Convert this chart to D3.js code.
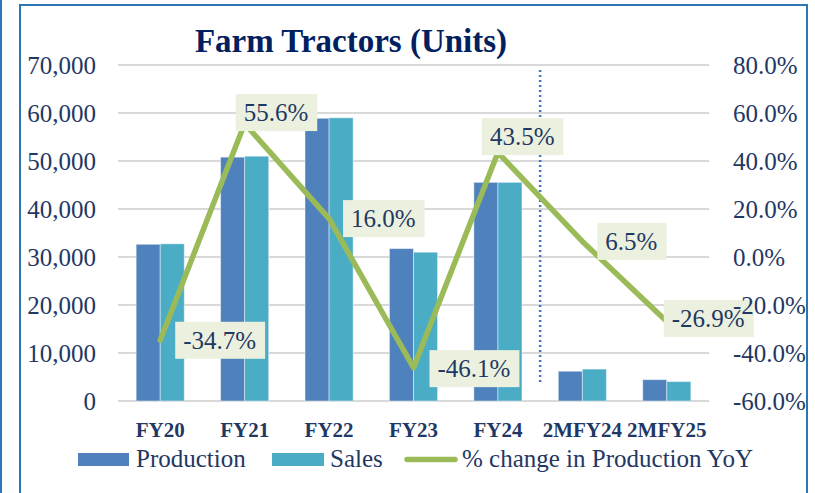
<!DOCTYPE html>
<html>
<head>
<meta charset="utf-8">
<script src="https://cdn.jsdelivr.net/npm/d3@7"></script>
<style>
  body { margin: 0; background: #fff; }
  svg { display: block; font-family: "Liberation Serif", "DejaVu Serif", serif; }
</style>
</head>
<body>
<svg width="815" height="493"></svg>
<script>
var categories = ["FY20", "FY21", "FY22", "FY23", "FY24", "2MFY24", "2MFY25"];
var production = [32650, 50800, 58900, 31750, 45550, 6200, 4450];
var sales = [32750, 51000, 59000, 31000, 45550, 6650, 4050];
var pctChange = [-34.7, 55.6, 16.0, -46.1, 43.5, 6.5, -26.9];
var leftTicks = [0, 10000, 20000, 30000, 40000, 50000, 60000, 70000];
var rightTicks = [-60, -40, -20, 0, 20, 40, 60, 80];
var seriesNames = ["Production", "Sales"];

// label box nudges (left edge offset, vertical offset) from each point
var labelShift = [[15, 0], [-9, -11], [14, 0], [16, 1], [-16, -16], [15, 0], [-3, -3]];

var svg = d3.select("svg"),
  width = +svg.attr("width"),
  height = +svg.attr("height");

var navy = "#1F3864";
var colors = { Production: "#4F81BD", Sales: "#4BACC6" };
var green = "#9BBB59";

var plotL = 118, plotR = 709, plotT = 65, plotB = 401;

var x0 = d3.scaleBand()
  .domain(categories)
  .range([plotL, plotR])
  .paddingInner(0.43)
  .paddingOuter(0.215);

var x1 = d3.scaleBand()
  .domain(seriesNames)
  .range([0, x0.bandwidth()]);

var y = d3.scaleLinear().domain([0, 70000]).range([plotB, plotT]);
var y2 = d3.scaleLinear().domain([-60, 80]).range([plotB, plotT]);

// frame
svg.append("line")
  .attr("x1", 1).attr("x2", 1).attr("y1", 0).attr("y2", height)
  .attr("stroke", "#2E75B6").attr("stroke-width", 2);
svg.append("path")
  .attr("d", "M20," + (height + 2) + "V5H807V" + (height + 2))
  .attr("fill", "none")
  .attr("stroke", "#2E75B6").attr("stroke-width", 2);

// gridlines
svg.append("g")
  .selectAll("line")
  .data(leftTicks)
  .enter().append("line")
  .attr("x1", plotL).attr("x2", plotR)
  .attr("y1", function (d) { return y(d); })
  .attr("y2", function (d) { return y(d); })
  .attr("stroke", "#D9D9D9")
  .attr("stroke-width", 2);

// bars
var rows = categories.map(function (c, i) {
  return { cat: c, values: [
    { key: "Production", value: production[i] },
    { key: "Sales", value: sales[i] }
  ] };
});

var groups = svg.append("g")
  .selectAll("g")
  .data(rows)
  .enter().append("g")
  .attr("transform", function (d) { return "translate(" + x0(d.cat) + ",0)"; });

groups.selectAll("rect")
  .data(function (d) { return d.values; })
  .enter().append("rect")
  .attr("x", function (d) { return x1(d.key); })
  .attr("width", x1.bandwidth())
  .attr("y", function (d) { return y(d.value); })
  .attr("height", function (d) { return y(0) - y(d.value); })
  .attr("fill", function (d) { return colors[d.key]; })
  .attr("stroke", "rgba(255,255,255,0.45)")
  .attr("stroke-width", 1);

// dotted divider between full years and 2M periods
var divX = (x0("FY24") + x0.bandwidth() + x0("2MFY24")) / 2;
svg.append("line")
  .attr("x1", divX).attr("x2", divX)
  .attr("y1", 70).attr("y2", 383)
  .attr("stroke", "#4472C4")
  .attr("stroke-width", 2.5)
  .attr("stroke-dasharray", "2,3");

// % change line
var cx = function (i) { return x0(categories[i]) + x0.bandwidth() / 2; };
var line = d3.line()
  .x(function (d, i) { return cx(i); })
  .y(function (d) { return y2(d); });

svg.append("path")
  .datum(pctChange)
  .attr("d", line)
  .attr("fill", "none")
  .attr("stroke", green)
  .attr("stroke-width", 5.5)
  .attr("stroke-linejoin", "round")
  .attr("stroke-linecap", "round");

// data labels
var labels = svg.append("g")
  .selectAll("g")
  .data(pctChange)
  .enter().append("g");

labels.each(function (d, i) {
  var g = d3.select(this);
  var px = cx(i), py = y2(d);
  var bx = px + labelShift[i][0], cy = py + labelShift[i][1];
  var rect = g.append("rect").attr("fill", "#EBF1DE");
  var t = g.append("text")
    .attr("x", bx + 8)
    .attr("y", cy)
    .attr("dy", "0.35em")
    .attr("font-size", 25)
    .attr("fill", navy)
    .text(d.toFixed(1) + "%");
  var w = t.node().getComputedTextLength();
  rect.attr("x", bx).attr("y", cy - 18.5)
    .attr("width", w + 17).attr("height", 37);
});

// left axis labels
svg.append("g")
  .selectAll("text")
  .data(leftTicks)
  .enter().append("text")
  .attr("x", 96)
  .attr("y", function (d) { return y(d); })
  .attr("dy", "0.35em")
  .attr("text-anchor", "end")
  .attr("font-size", 25)
  .attr("fill", navy)
  .text(d3.format(","));

// right axis labels
svg.append("g")
  .selectAll("text")
  .data(rightTicks)
  .enter().append("text")
  .attr("x", 733)
  .attr("y", function (d) { return y2(d); })
  .attr("dy", "0.35em")
  .attr("font-size", 25)
  .attr("fill", navy)
  .text(function (d) { return d.toFixed(1) + "%"; });

// category labels
svg.append("g")
  .selectAll("text")
  .data(categories)
  .enter().append("text")
  .attr("x", function (d) { return x0(d) + x0.bandwidth() / 2; })
  .attr("y", 437)
  .attr("text-anchor", "middle")
  .attr("font-size", 21)
  .attr("font-weight", "bold")
  .attr("fill", navy)
  .text(function (d) { return d; });

// title
svg.append("text")
  .attr("x", 351)
  .attr("y", 52)
  .attr("text-anchor", "middle")
  .attr("font-size", 33)
  .attr("font-weight", "bold")
  .attr("fill", "#002060")
  .text("Farm Tractors (Units)");

// legend
var legend = svg.append("g");
legend.append("rect").attr("x", 78).attr("y", 453).attr("width", 51).attr("height", 13)
  .attr("fill", colors.Production);
legend.append("text").attr("x", 136).attr("y", 467).attr("font-size", 25).attr("fill", navy)
  .text("Production");
legend.append("rect").attr("x", 272).attr("y", 453).attr("width", 52).attr("height", 13)
  .attr("fill", colors.Sales);
legend.append("text").attr("x", 330).attr("y", 467).attr("font-size", 25).attr("fill", navy)
  .text("Sales");
legend.append("line").attr("x1", 407).attr("x2", 455).attr("y1", 459.5).attr("y2", 459.5)
  .attr("stroke", green).attr("stroke-width", 5.5).attr("stroke-linecap", "round");
legend.append("text").attr("x", 462).attr("y", 467).attr("font-size", 25).attr("fill", navy)
  .text("% change in Production YoY");
</script>
</body>
</html>
